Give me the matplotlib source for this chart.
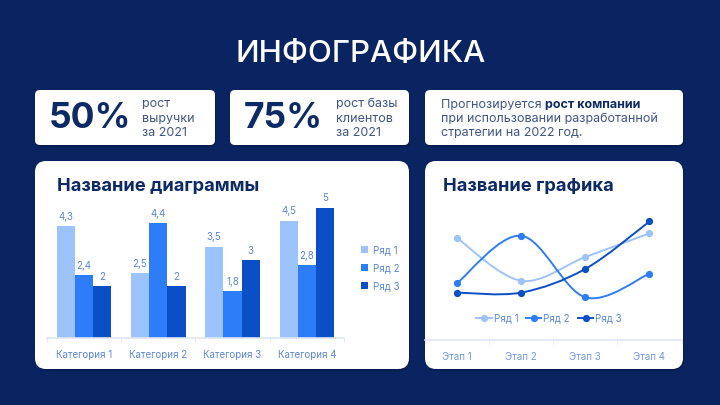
import matplotlib
matplotlib.use("Agg")
import matplotlib.pyplot as plt
import numpy as np
from matplotlib.patches import FancyBboxPatch, PathPatch
from matplotlib.path import Path
from matplotlib.lines import Line2D

plt.rcParams["font.family"] = ["Inter", "DejaVu Sans"]

# --- data ---
categories = ["Категория 1", "Категория 2", "Категория 3", "Категория 4"]
stages = ["Этап 1", "Этап 2", "Этап 3", "Этап 4"]
series_names = ["Ряд 1", "Ряд 2", "Ряд 3"]
row1 = [4.3, 2.5, 3.5, 4.5]
row2 = [2.4, 4.4, 1.8, 2.8]
row3 = [2.0, 2.0, 3.0, 5.0]
stat_values = ["50%", "75%"]
stat_notes = ["рост\nвыручки\nза 2021", "рост базы\nклиентов\nза 2021"]

BG = "#0A2462"
NAVY = "#0E2A66"
MUTED = "#3F5488"
COLORS = ["#9DC3FD", "#2E7DF8", "#0A4FC6"]
LABEL_BLUE = "#5A86DA"
AXIS_LINE = "#DCE6F5"

W, H = 720, 405
fig = plt.figure(figsize=(7.2, 4.05), dpi=100)
fig.patch.set_facecolor(BG)

bg = fig.add_axes([0, 0, 1, 1])
bg.set_xlim(0, W)
bg.set_ylim(H, 0)
bg.axis("off")


def card(l, t, r, b, rad):
    shadow = FancyBboxPatch((l + 1, t + 2), r - l, b - t,
                            boxstyle=f"round,pad=0,rounding_size={rad}",
                            fc="#061940", ec="none", alpha=0.6, zorder=1)
    bg.add_patch(shadow)
    box = FancyBboxPatch((l, t), r - l, b - t,
                         boxstyle=f"round,pad=0,rounding_size={rad}",
                         fc="white", ec="none", zorder=2)
    bg.add_patch(box)


def px_rect(l, t, r, b):
    return [l / W, 1 - b / H, (r - l) / W, (b - t) / H]


# --- header and top cards ---
bg.text(361, 54, "ИНФОГРАФИКА", color="white", fontsize=22.5,
        fontweight="medium", ha="center", va="center")

card(35, 90, 215, 145, 5)
card(230, 90, 409, 145, 5)
card(425, 90, 683, 145, 5)

for x_num, x_note, val, note in [(49, 142, stat_values[0], stat_notes[0]),
                                 (244, 336, stat_values[1], stat_notes[1])]:
    bg.text(x_num, 118.5, val, color=NAVY, fontsize=25.5, fontweight="bold",
            ha="left", va="center", zorder=3)
    bg.text(x_note, 118.5, note, color=MUTED, fontsize=9, ha="left",
            va="center", linespacing=1.3, zorder=3)

t1 = bg.text(441, 107.5, "Прогнозируется ", color=MUTED, fontsize=9,
             ha="left", va="baseline", zorder=3)
bg.annotate("рост компании", xy=(1, 0), xycoords=t1, color=NAVY, fontsize=9,
            fontweight="bold", ha="left", va="bottom", zorder=3)
bg.text(441, 122, "при использовании разработанной", color=MUTED, fontsize=9,
        ha="left", va="baseline", zorder=3)
bg.text(441, 136, "стратегии на 2022 год.", color=MUTED, fontsize=9,
        ha="left", va="baseline", zorder=3)

# --- chart cards ---
card(35, 161, 409, 369, 11)
card(425, 161, 683, 369, 11)

bg.text(57, 186, "Название диаграммы", color=NAVY, fontsize=13.2,
        fontweight="bold", ha="left", va="center", zorder=3)
bg.text(443, 186, "Название графика", color=NAVY, fontsize=13.2,
        fontweight="bold", ha="left", va="center", zorder=3)

# --- bar chart ---
ax1 = fig.add_axes(px_rect(46.7, 181.4, 344, 338))
ax1.set_facecolor("none")
x = np.arange(len(categories))
bw = 0.245
for i, (vals, name) in enumerate(zip([row1, row2, row3], series_names)):
    bars = ax1.bar(x + (i - 1) * bw, vals, width=bw, color=COLORS[i],
                   label=name, zorder=2)
    ax1.bar_label(bars, labels=[f"{v:g}".replace(".", ",") for v in vals],
                  padding=3, fontsize=7, color=LABEL_BLUE)
ax1.set_xlim(-0.5, len(categories) - 0.5)
ax1.set_ylim(0, 6)
ax1.set_yticks([])
for s in ["top", "right", "left"]:
    ax1.spines[s].set_visible(False)
ax1.spines["bottom"].set_color(AXIS_LINE)
ax1.spines["bottom"].set_linewidth(1.2)
ax1.set_xticks(x)
ax1.set_xticklabels(categories, fontsize=7, color=LABEL_BLUE)
ax1.set_xticks(np.arange(-0.5, len(categories)), minor=True)
ax1.tick_params(axis="x", which="major", length=0, pad=9)
ax1.tick_params(axis="x", which="minor", length=3, color=AXIS_LINE)
ax1.legend(loc="center left", bbox_to_anchor=(352, 268),
           bbox_transform=bg.transData, frameon=False, fontsize=7,
           handlelength=0.75, handleheight=0.75, handletextpad=0.5,
           labelspacing=0.8, labelcolor=LABEL_BLUE)

# --- line chart ---
ax2 = fig.add_axes(px_rect(425, 197.8, 681.5, 340))
ax2.set_facecolor("none")
xs = np.arange(len(stages))


def smooth_path(xv, yv):
    pts = np.column_stack([xv, yv]).astype(float)
    ext = np.vstack([pts[0], pts, pts[-1]])
    verts = [tuple(pts[0])]
    codes = [Path.MOVETO]
    for k in range(len(pts) - 1):
        p0, p1, p2, p3 = ext[k], ext[k + 1], ext[k + 2], ext[k + 3]
        c1 = p1 + (p2 - p0) / 6
        c2 = p2 - (p3 - p1) / 6
        verts += [tuple(c1), tuple(c2), tuple(p2)]
        codes += [Path.CURVE4] * 3
    return Path(verts, codes)


handles = []
for i, (vals, name) in enumerate(zip([row1, row2, row3], series_names)):
    ax2.add_patch(PathPatch(smooth_path(xs, vals), fc="none", ec=COLORS[i],
                            lw=1.4, zorder=2))
    ax2.plot(xs, vals, ls="none", marker="o", ms=4.2, color=COLORS[i],
             zorder=3)
    handles.append(Line2D([], [], color=COLORS[i], lw=1.4, marker="o",
                          ms=4.2, label=name))
ax2.set_xlim(-0.5, len(stages) - 0.5)
ax2.set_ylim(0, 6)
ax2.set_yticks([])
for s in ["top", "right", "left"]:
    ax2.spines[s].set_visible(False)
ax2.spines["bottom"].set_color(AXIS_LINE)
ax2.spines["bottom"].set_linewidth(1.2)
ax2.set_xticks(xs)
ax2.set_xticklabels(stages, fontsize=7, color="#6F98E2")
ax2.set_xticks(np.arange(-0.5, len(stages)), minor=True)
ax2.tick_params(axis="x", which="major", length=0, pad=9)
ax2.tick_params(axis="x", which="minor", length=3, color=AXIS_LINE)
ax2.legend(handles=handles, loc="center", bbox_to_anchor=(549, 318),
           bbox_transform=bg.transData, frameon=False, ncol=3, fontsize=7,
           handlelength=1.6, handletextpad=0.2, columnspacing=0.8,
           labelcolor=LABEL_BLUE)

fig.savefig("out.png", dpi=100, facecolor=BG)
